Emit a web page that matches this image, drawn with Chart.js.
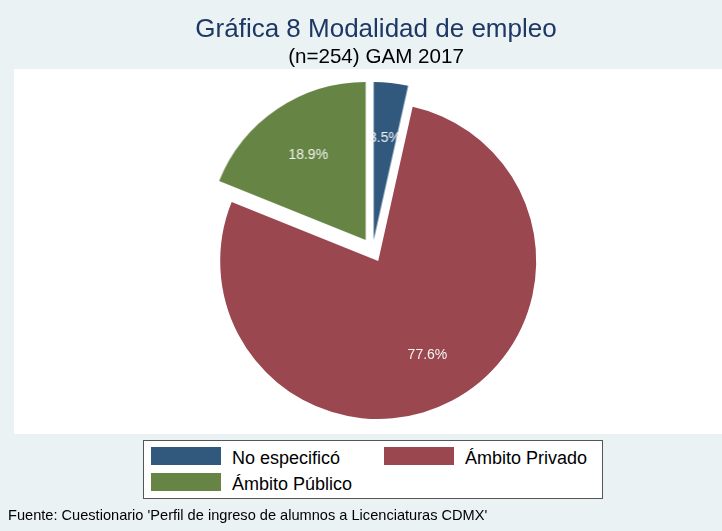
<!DOCTYPE html>
<html><head><meta charset="utf-8">
<script src="https://cdn.jsdelivr.net/npm/chart.js@4/dist/chart.umd.min.js"></script>
<style>
html,body{margin:0;padding:0;}
body{width:722px;height:531px;background:#eaf2f3;position:relative;overflow:hidden;font-family:"Liberation Sans",Arial,sans-serif;}
#plot{position:absolute;left:14px;top:69px;width:708px;height:365px;background:#fff;}
canvas.pie{position:absolute;left:0;top:0;}
.t{position:absolute;white-space:nowrap;line-height:1;}
#title{left:0;width:752px;text-align:center;top:15px;font-size:26px;color:#1e3866;}
#subtitle{left:0;width:752px;text-align:center;top:46px;font-size:20.6px;color:#000;}
#legend{position:absolute;left:143px;top:440px;width:460px;height:59px;box-sizing:border-box;border:1px solid #555;background:#fff;}
.key{position:absolute;width:70px;height:18px;}
.lab{position:absolute;font-size:18px;line-height:1;white-space:nowrap;color:#000;}
#note{left:8px;top:508px;font-size:14.6px;color:#000;}
</style></head>
<body>
<div id="plot"></div>
<canvas class="pie" id="c1" width="722" height="531"></canvas>
<canvas class="pie" id="c2" width="722" height="531"></canvas>
<canvas class="pie" id="c0" width="722" height="531"></canvas>
<div class="t" id="title">Gráfica 8 Modalidad de empleo</div>
<div class="t" id="subtitle">(n=254) GAM 2017</div>
<div id="legend"></div>
<div class="t" id="note">Fuente: Cuestionario 'Perfil de ingreso de alumnos a Licenciaturas CDMX'</div>
<script>
// ---- data ----
const categories = ['No especificó', 'Ámbito Privado', 'Ámbito Público'];
const percentages = [3.5, 77.6, 18.9];

// ---- styles ----
const colors = ['#31597e', '#9b4750', '#668443'];
const explode = [[-4.5, -21], [0, 0], [-12.5, -21]]; // pixel shift of exploded slices
const drawOrder = [1, 2, 0];

const labelPlugin = {
  id: 'sliceLabel',
  afterDatasetsDraw(chart, args, opts) {
    const arc = chart.getDatasetMeta(0).data[opts.index];
    const p = arc.getProps(['x', 'y', 'startAngle', 'endAngle', 'outerRadius'], true);
    const mid = (p.startAngle + p.endAngle) / 2;
    const r = p.outerRadius * opts.frac;
    const ctx = chart.ctx;
    ctx.save();
    ctx.fillStyle = '#f4f4f4';
    ctx.font = '14px "Liberation Sans", Arial, sans-serif';
    ctx.textAlign = 'center';
    ctx.textBaseline = 'middle';
    ctx.fillText(percentages[opts.index].toFixed(1) + '%', p.x + Math.cos(mid) * r, p.y + Math.sin(mid) * r);
    ctx.restore();
  }
};

drawOrder.forEach(i => {
  const cv = document.getElementById('c' + i);
  cv.style.transform = 'translate(' + explode[i][0] + 'px,' + explode[i][1] + 'px)';
  new Chart(cv, {
    type: 'pie',
    data: {
      labels: categories,
      datasets: [{
        data: percentages,
        backgroundColor: colors.map((c, j) => j === i ? c : 'rgba(0,0,0,0)'),
        borderWidth: 0,
        hoverOffset: 0,
        radius: 158,
        clip: false
      }]
    },
    options: {
      responsive: false,
      animation: false,
      devicePixelRatio: 1,
      events: [],
      layout: { padding: { left: 100, right: 65.6, top: 100, bottom: 109 } },
      plugins: {
        legend: { display: false },
        tooltip: { enabled: false },
        sliceLabel: { index: i, frac: i === 1 ? 0.67 : 0.65 }
      }
    },
    plugins: [labelPlugin]
  });
});

// ---- legend ----
const lg = document.getElementById('legend');
categories.forEach((name, i) => {
  const col = i % 2, row = Math.floor(i / 2);
  const k = document.createElement('div');
  k.className = 'key';
  k.style.background = colors[i];
  k.style.left = (7 + col * 233) + 'px';
  k.style.top = (6 + row * 26) + 'px';
  lg.appendChild(k);
  const t = document.createElement('div');
  t.className = 'lab';
  t.textContent = name;
  t.style.left = (88 + col * 233) + 'px';
  t.style.top = (8 + row * 26) + 'px';
  lg.appendChild(t);
});
</script>
</body></html>
